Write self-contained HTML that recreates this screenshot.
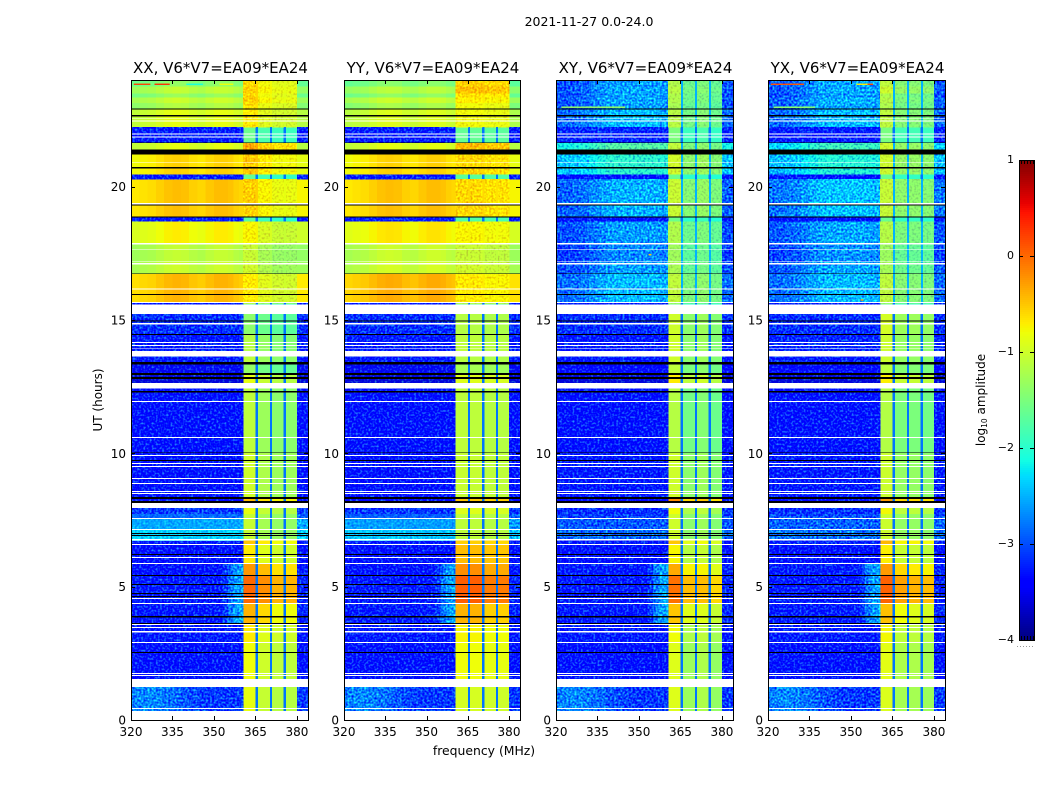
<!DOCTYPE html>
<html lang="en">
<head>
<meta charset="utf-8">
<title>2021-11-27 0.0-24.0</title>
<style>
html,body{margin:0;padding:0;background:#fff;}
svg{display:block;font-family:"DejaVu Sans","Liberation Sans",sans-serif;fill:#000;}
</style>
</head>
<body>
<svg id="figure" xmlns="http://www.w3.org/2000/svg" width="1050" height="800" viewBox="0 0 1050 800">
  <defs id="defs"></defs>
  <rect x="0" y="0" width="1050" height="800" fill="#fff"></rect>
  <text x="589" y="26" font-size="12.5" text-anchor="middle">2021-11-27 0.0-24.0</text>
  <text transform="translate(102,400) rotate(-90)" font-size="12" text-anchor="middle">UT (hours)</text>
  <text x="484" y="755" font-size="12.4" text-anchor="middle">frequency (MHz)</text>
  <text transform="translate(985,400) rotate(-90)" font-size="12" text-anchor="middle">log<tspan font-size="7.5" dy="2">10</tspan><tspan dy="-2"> amplitude</tspan></text>
  <g id="panels"></g>
  <g id="colorbar"></g>
</svg>
<script>
/* ---- axis labels ---- */
const panelTitles = ["XX, V6*V7=EA09*EA24","YY, V6*V7=EA09*EA24","XY, V6*V7=EA09*EA24","YX, V6*V7=EA09*EA24"];
const freqTicks = [320,335,350,365,380];
const hourTicks = [0,5,10,15,20];
const colorTicks = [1,0,-1,-2,-3,-4];

/* ---- frequency channels (MHz) ---- */
const channelEdges = [320,323,326,329,332,335,338,341,344,347,350,353,355,357,359,360.5,365.1,365.9,370.2,371,375.2,376,380,384];
const channelKinds = ["low","low","low","low","low","low","low","low","low","low","low","low","low","low","low","win","gap","win","gap","win","gap","win","edge"];

/* ---- time blocks: top edge of each block, UT hours ---- */
const blockTops = [24,23.76,23.5,23.35,23.13,22.94,22.23,21.66,21.21,20.46,20.28,18.89,18.7,17.88,17.17,16.75,15.63,15.22,14.47,13.64,13.42,13.0,12.44,10.04,8.36,7.95,7.72,7.53,7.12,6.73,6.56,5.88,5.43,4.39,3.6,2.89,1.24];
const blockShapes = [1,1,1,1,1,1,0,1,1,0,1,0,1,1,1,1,0,0,0,0,0,0,0,0,0,0,0,0,0,0,0,2,2,2,0,0,3];
const smoothParallelTops = [7.72,7.53,7.12];

/* ---- log10 amplitude of the line-free (low) band and the spectral windows ---- */
const lowXX = [-1.45,-1.15,-1.4,-1.1,-1.25,-0.95,-3.25,-0.95,-0.65,-3.25,-0.55,-3.25,-0.8,-1.15,-1.1,-0.5,-3.25,-3.15,-3.25,-3.25,-3.5,-3.6,-3.3,-3.3,-3.35,-3.1,-2.85,-2.55,-2.35,-3.25,-3.3,-3.3,-3.25,-3.25,-3.25,-3.3,-3.1];
const winXX = [-0.75,-0.7,-0.75,-0.7,-0.8,-0.85,-1.75,-0.5,-0.65,-1.8,-0.7,-1.85,-0.9,-1.2,-1.15,-0.85,-1.8,-1.55,-1.3,-1.25,-1.5,-1.0,-1.25,-1.15,-0.6,-1.0,-1.2,-1.2,-1.2,-0.65,-0.85,-0.45,-0.2,-0.6,-0.85,-0.95,-1.0];
const lowYY = [-1.5,-1.2,-1.45,-1.1,-1.3,-1.0,-3.25,-0.95,-0.65,-3.25,-0.55,-3.25,-0.75,-1.1,-1.05,-0.45,-3.25,-3.15,-3.25,-3.25,-3.5,-3.6,-3.3,-3.3,-3.35,-3.1,-2.9,-2.6,-2.4,-3.25,-3.3,-3.3,-3.25,-3.25,-3.25,-3.3,-3.1];
const winYY = [-0.6,-0.5,-0.7,-0.75,-0.85,-0.85,-1.7,-0.5,-0.65,-1.75,-0.65,-1.8,-0.8,-1.1,-1.05,-0.75,-1.7,-1.2,-1.15,-1.2,-1.3,-0.95,-1.15,-1.1,-0.55,-0.95,-1.15,-1.15,-1.15,-0.6,-0.5,-0.3,-0.05,-0.5,-0.8,-0.85,-1.0];
const lowXY = [-2.8,-2.75,-2.8,-2.75,-2.8,-2.65,-3.2,-1.95,-2.2,-3.3,-2.7,-3.3,-2.8,-2.9,-2.8,-2.65,-3.25,-3.15,-3.25,-3.25,-3.45,-3.6,-3.3,-3.25,-3.35,-3.15,-3.05,-2.95,-2.85,-3.25,-3.3,-3.25,-3.25,-3.25,-3.25,-3.3,-3.1];
const winXY = [-1.5,-1.45,-1.5,-1.5,-1.55,-1.45,-1.8,-1.4,-1.3,-1.9,-1.35,-1.9,-1.5,-1.6,-1.55,-1.4,-1.9,-1.3,-1.3,-1.3,-1.4,-1.0,-1.45,-1.3,-0.5,-1.1,-1.3,-1.3,-1.3,-0.8,-1.05,-0.7,-0.4,-0.85,-1.1,-1.2,-1.2];
const lowYX = [-2.75,-2.75,-2.8,-2.7,-2.75,-2.65,-3.25,-2.1,-2.25,-3.3,-2.6,-3.3,-2.75,-2.85,-2.75,-2.65,-3.25,-3.15,-3.2,-3.25,-3.45,-3.6,-3.3,-3.25,-3.35,-3.15,-3.0,-2.9,-2.8,-3.2,-3.3,-3.25,-3.25,-3.25,-3.25,-3.3,-3.1];
const winYX = [-1.4,-1.3,-1.5,-1.45,-1.5,-1.4,-1.8,-1.3,-1.3,-1.9,-1.35,-1.9,-1.45,-1.6,-1.55,-1.4,-1.9,-1.25,-1.3,-1.3,-1.4,-1.0,-1.45,-1.3,-0.55,-1.05,-1.3,-1.3,-1.3,-0.7,-1.0,-0.6,-0.3,-0.8,-1.05,-1.15,-1.2];

/* ---- per-window brightness offsets, per polarization ---- */
const windowOffsetXX = [0.15,-0.05,-0.15,-0.15];
const windowOffsetYY = [0.05,0.05,0,0];
const windowOffsetXY = [0.3,-0.1,0,-0.15];
const windowOffsetYX = [0.28,-0.05,-0.05,-0.1];

/* ---- spectral shape: 15 low channels, 4 windows, 1 edge ---- */
const shapeFlat  = [0,0,0,0,0,0,0,0,0,0,0,0,0,0,0, 0,0,0,0, 0];
const shapeLumps = [-0.14,-0.1,-0.07,0,0.07,0.1,0.08,0,-0.04,0.04,0.1,0.1,0.07,0,-0.04, 0,0,0,0, -0.2];
const shapeCross = [-0.2,-0.2,-0.15,-0.1,0,0.1,0.18,0.2,0.2,0.2,0.2,0.2,0.2,0.15,0.15, 0,0,0,0, -0.2];
const shapeBump  = [0,0,0,0,0,0,0,0,0,0,0,0.15,0.45,0.65,0.7, 0.05,0.05,-0.05,-0.05, 0.05];
const shapeLeft  = [0.35,0.4,0.4,0.35,0.3,0.25,0.15,0.1,0.05,0,0,0,0,0,0, 0,0,0,0, 0];

/* ---- flagged time ranges: [start hour, end hour] ---- */
const whiteStart = [22.56,22.49,22.0,21.89,20.91,19.38,17.88,17.65,17.2,17.13,16.19,15.67,15.59,14.88,14.17,14.06,13.94,13.83,12.63,11.96,10.61,9.93,9.63,9.52,9.07,8.88,8.58,8.51,8.13,7.57,7.16,6.78,6.6,6.11,5.88,4.57,4.39,3.6,3.49,3.34,2.92,1.76,1.69,1.54,0.45,0.34];
const whiteEnd   = [22.53,22.45,21.96,21.85,20.88,19.34,17.84,17.62,17.17,17.09,16.15,15.63,15.22,14.84,14.13,14.02,13.91,13.64,12.44,11.92,10.57,9.9,9.6,9.48,9.03,8.85,8.55,8.47,7.95,7.53,7.12,6.73,6.56,6.07,5.85,4.54,4.35,3.56,3.45,3.28,2.89,1.72,1.65,1.24,0.41,0];
const blackStart = [22.94,22.68,21.66,21.4,20.73,19.34,18.89,16.75,15.97,14.99,14.47,13.42,13.01,12.86,12.33,10.04,9.75,8.36,8.21,7.01,6.93,6.22,5.43,5.1,4.76,4.65,3.9,3.64,2.55];
const blackEnd   = [22.9,22.64,21.63,21.21,20.69,19.3,18.85,16.72,15.93,14.94,14.43,13.34,12.93,12.78,12.29,10.01,9.71,8.28,8.13,6.97,6.9,6.18,5.4,5.06,4.72,4.61,3.84,3.6,2.51];

/* ---- narrow interference streaks ---- */
const streakPanel = [0,0,0,0,3,3,3,3,2,2,3,3];
const streakHour  = [23.84,23.84,23.84,23.84,23.84,23.84,23.84,22.98,22.98,17.45,22.98,15.75];
const streakFrom  = [321,328.5,340,352,321,352,356,322,322,353.5,322,353.5];
const streakTo    = [327,334,346,357,333,356,358,337,345,354.5,335,354.5];
const streakValue = [0.2,0.3,-2.1,-0.8,0.1,-0.7,0.2,-1.4,-1.3,-0.5,-1.4,-0.4];

/* ---- panel geometry ---- */
const panelLefts = [131,344,556,768];
const panelWidths = [177,176,177,177];
const plotTop = 80;
const plotBottom = 720;
const freqMin = 320;
const freqMax = 384;
const hourMax = 24;
const colorMin = -4;
const colorMax = 1;

const lows = [lowXX,lowYY,lowXY,lowYX];
const wins = [winXX,winYY,winXY,winYX];
const windowOffsets = [windowOffsetXX,windowOffsetYY,windowOffsetXY,windowOffsetYX];
const shapesParallel = [shapeFlat,shapeLumps,shapeBump,shapeLeft];
const shapesCrossed = [shapeFlat,shapeCross,shapeBump,shapeLeft];

const NS = "http://www.w3.org/2000/svg";
function mk(tag,parent){
  const e = document.createElementNS(NS,tag);
  parent.appendChild(e);
  return e;
}
function xScale(panel,f){ return panelLefts[panel] + (f-freqMin)/(freqMax-freqMin)*panelWidths[panel]; }
function yScale(h){ return plotBottom - h/hourMax*(plotBottom-plotTop); }
function interp(stops,t){
  for(let i=1;i<stops.length;i++){
    if(t<=stops[i][0]){
      const a=stops[i-1], b=stops[i];
      return a[1]+(b[1]-a[1])*(t-a[0])/(b[0]-a[0]);
    }
  }
  return stops[stops.length-1][1];
}
const jetR=[[0,0],[0.35,0],[0.66,1],[0.89,1],[1,0.5]];
const jetG=[[0,0],[0.125,0],[0.375,1],[0.64,1],[0.91,0],[1,0]];
const jetB=[[0,0.5],[0.11,1],[0.34,1],[0.65,0],[1,0]];
function jetColor(v){
  const t=Math.max(0,Math.min(1,(v-colorMin)/(colorMax-colorMin)));
  return "rgb("+Math.round(255*interp(jetR,t))+","+Math.round(255*interp(jetG,t))+","+Math.round(255*interp(jetB,t))+")";
}
function cellValue(p,b,c){
  const low=lows[p][b], win=wins[p][b];
  const shape=(p<2?shapesParallel:shapesCrossed)[blockShapes[b]];
  const kind=channelKinds[c];
  let profileIndex=c, w=0;
  if(c>=15){
    w=Math.floor((c-15)/2);
    profileIndex=kind==="edge"?19:15+Math.min(w,3);
  }
  if(kind==="low") return low+shape[profileIndex];
  if(kind==="edge") return low+shape[profileIndex];
  if(kind==="win") return win+windowOffsets[p][w]+shape[profileIndex];
  if(low<-1.9) return (blockTops[b]>15.7 && low>-2.95) ? -2.5 : -2.8;
  return win+windowOffsets[p][w];
}
function addSpeckleFilter(id,seed,amp){
  const filter=mk("filter",defs);
  filter.setAttribute("id",id);
  filter.setAttribute("x","0");
  filter.setAttribute("y","0");
  filter.setAttribute("width","1");
  filter.setAttribute("height","1");
  filter.setAttribute("color-interpolation-filters","sRGB");
  const turb=mk("feTurbulence",filter);
  turb.setAttribute("type","fractalNoise");
  turb.setAttribute("baseFrequency","0.48");
  turb.setAttribute("numOctaves","1");
  turb.setAttribute("seed",String(seed));
  turb.setAttribute("result","n");
  const cm=mk("feColorMatrix",filter);
  cm.setAttribute("in","n");
  cm.setAttribute("type","matrix");
  cm.setAttribute("values","0.3 0 0 0 0.35  1 0 0 0 0  0 0 0 0 0.5  0 0 0 0 1");
  cm.setAttribute("result","m");
  const comp=mk("feComposite",filter);
  comp.setAttribute("in","SourceGraphic");
  comp.setAttribute("in2","m");
  comp.setAttribute("operator","arithmetic");
  comp.setAttribute("k1","0");
  comp.setAttribute("k2","1");
  comp.setAttribute("k3",String(amp));
  comp.setAttribute("k4",String(-amp/2));
  comp.setAttribute("result","c");
  const clip=mk("feComposite",filter);
  clip.setAttribute("in","c");
  clip.setAttribute("in2","SourceAlpha");
  clip.setAttribute("operator","in");
}

const defs=document.getElementById("defs");
const panelsRoot=document.getElementById("panels");

panelLefts.forEach(function(left,p){
  const panelWidth=panelWidths[p];
  addSpeckleFilter("speckle-"+p,p*5+3,1.6);
  addSpeckleFilter("soft-speckle-"+p,p*5+11,0.8);

  const panel=mk("g",panelsRoot);
  
  

  const bg=mk("rect",panel);
  
  
  bg.setAttribute("x",left);
  bg.setAttribute("y",plotTop);
  bg.setAttribute("width",panelWidth);
  bg.setAttribute("height",plotBottom-plotTop);
  bg.setAttribute("fill","#fff");

  const smooth=mk("g",panel);
  
  
  smooth.setAttribute("shape-rendering","crispEdges");
  const noisy=mk("g",panel);
  
  
  noisy.setAttribute("shape-rendering","crispEdges");
  noisy.setAttribute("filter","url(#speckle-"+p+")");
  const soft=mk("g",panel);
  
  
  soft.setAttribute("shape-rendering","crispEdges");
  soft.setAttribute("filter","url(#soft-speckle-"+p+")");

  blockTops.forEach(function(top,b){
    const bottom=b+1<blockTops.length?blockTops[b+1]:0;
    for(let c=0;c<channelKinds.length;c++){
      const v=cellValue(p,b,c);
      const kind=channelKinds[c];
      let target=smooth;
      if((kind==="low"||kind==="edge") && v<-1.7) target=noisy;
      if(kind==="low" && p<2 && smoothParallelTops.includes(top)) target=soft;
      if(kind==="win" && top>15.7 && lows[p][b]>-2.95) target=soft;
      const cell=mk("rect",target);
      
      
      const x0=xScale(p,channelEdges[c]), x1=xScale(p,channelEdges[c+1]);
      cell.setAttribute("x",x0.toFixed(2));
      cell.setAttribute("y",yScale(top).toFixed(2));
      cell.setAttribute("width",(x1-x0+0.3).toFixed(2));
      cell.setAttribute("height",(yScale(bottom)-yScale(top)+0.3).toFixed(2));
      cell.setAttribute("fill",jetColor(v));
    }
  });

  streakPanel.forEach(function(sp,i){
    if(sp!==p) return;
    const s=mk("rect",panel);
    
    
    s.setAttribute("x",xScale(p,streakFrom[i]).toFixed(2));
    s.setAttribute("y",(yScale(streakHour[i])-0.7).toFixed(2));
    s.setAttribute("width",(xScale(p,streakTo[i])-xScale(p,streakFrom[i])).toFixed(2));
    s.setAttribute("height","1.4");
    s.setAttribute("fill",jetColor(streakValue[i]));
  });

  whiteStart.forEach(function(h,i){
    const r=mk("rect",panel);
    
    
    r.setAttribute("shape-rendering","crispEdges");
    r.setAttribute("x",left);
    r.setAttribute("y",yScale(h).toFixed(2));
    r.setAttribute("width",panelWidth);
    r.setAttribute("height",(yScale(whiteEnd[i])-yScale(h)).toFixed(2));
    r.setAttribute("fill","#fff");
  });
  blackStart.forEach(function(h,i){
    const r=mk("rect",panel);
    
    
    r.setAttribute("shape-rendering","crispEdges");
    r.setAttribute("x",left);
    r.setAttribute("y",yScale(h).toFixed(2));
    r.setAttribute("width",panelWidth);
    r.setAttribute("height",(yScale(blackEnd[i])-yScale(h)).toFixed(2));
    r.setAttribute("fill","#000");
  });

  const title=mk("text",panel);
  
  
  title.setAttribute("x",left+panelWidth/2+1);
  title.setAttribute("y",plotTop-7);
  title.setAttribute("font-size","15");
  title.setAttribute("text-anchor","middle");
  title.textContent=panelTitles[p];

  freqTicks.forEach(function(f){
    const x=Math.round(xScale(p,f))+0.5;
    [[plotBottom,plotBottom-4],[plotTop,plotTop+4]].forEach(function(seg){
      const t=mk("line",panel);
      
      
      t.setAttribute("x1",x);
      t.setAttribute("x2",x);
      t.setAttribute("y1",seg[0]);
      t.setAttribute("y2",seg[1]);
      t.setAttribute("stroke","#000");
    });
    const lab=mk("text",panel);
    
    
    lab.setAttribute("x",xScale(p,f));
    lab.setAttribute("y",plotBottom+16);
    lab.setAttribute("font-size","12");
    lab.setAttribute("text-anchor","middle");
    lab.textContent=f;
  });
  hourTicks.forEach(function(h){
    const y=Math.round(yScale(h))+0.5;
    [[left,left+4],[left+panelWidth,left+panelWidth-4]].forEach(function(seg){
      const t=mk("line",panel);
      
      
      t.setAttribute("x1",seg[0]);
      t.setAttribute("x2",seg[1]);
      t.setAttribute("y1",y);
      t.setAttribute("y2",y);
      t.setAttribute("stroke","#000");
    });
    const lab=mk("text",panel);
    
    
    lab.setAttribute("x",left-5);
    lab.setAttribute("y",yScale(h)+4.5);
    lab.setAttribute("font-size","12");
    lab.setAttribute("text-anchor","end");
    lab.textContent=h;
  });

  const frame=mk("rect",panel);
  
  
  frame.setAttribute("x",left+0.5);
  frame.setAttribute("y",plotTop+0.5);
  frame.setAttribute("width",panelWidth);
  frame.setAttribute("height",plotBottom-plotTop);
  frame.setAttribute("fill","none");
  frame.setAttribute("stroke","#000");
});

/* ---- colorbar ---- */
const barRoot=document.getElementById("colorbar");
const barLeft=1019, barWidth=15, barTop=160, barBottom=640;
function barY(v){ return barBottom-(v-colorMin)/(colorMax-colorMin)*(barBottom-barTop); }
for(let py=barTop;py<barBottom;py+=2){
  const v=colorMin+(barBottom-py-1)/(barBottom-barTop)*(colorMax-colorMin);
  const s=mk("rect",barRoot);
  
  
  s.setAttribute("shape-rendering","crispEdges");
  s.setAttribute("x",barLeft);
  s.setAttribute("y",py);
  s.setAttribute("width",barWidth);
  s.setAttribute("height","2");
  s.setAttribute("fill",jetColor(v));
}
colorTicks.forEach(function(v){
  const y=Math.round(barY(v))+0.5;
  if(v!==colorMin&&v!==colorMax){
    [[barLeft,barLeft+4],[barLeft+barWidth,barLeft+barWidth-4]].forEach(function(seg){
      const t=mk("line",barRoot);
      
      
      t.setAttribute("x1",seg[0]);
      t.setAttribute("x2",seg[1]);
      t.setAttribute("y1",y);
      t.setAttribute("y2",y);
      t.setAttribute("stroke","#000");
    });
  }
  const lab=mk("text",barRoot);
  
  
  lab.setAttribute("x",barLeft-5);
  lab.setAttribute("y",barY(v)+3);
  lab.setAttribute("font-size","11");
  lab.setAttribute("text-anchor","end");
  lab.textContent=v<0?"\u2212"+Math.abs(v):String(v);
});
for(let tx=barLeft+2;tx<barLeft+barWidth;tx+=3){
  [[barTop,barTop+4],[barBottom,barBottom-4]].forEach(function(seg){
    const t=mk("line",barRoot);
    
    
    t.setAttribute("x1",tx+0.5);
    t.setAttribute("x2",tx+0.5);
    t.setAttribute("y1",seg[0]);
    t.setAttribute("y2",seg[1]);
    t.setAttribute("stroke","#000");
  });
}
const barFrame=mk("rect",barRoot);


barFrame.setAttribute("x",barLeft+0.5);
barFrame.setAttribute("y",barTop+0.5);
barFrame.setAttribute("width",barWidth);
barFrame.setAttribute("height",barBottom-barTop);
barFrame.setAttribute("fill","none");
barFrame.setAttribute("stroke","#000");
const dots=mk("line",barRoot);


dots.setAttribute("x1",1017);
dots.setAttribute("x2",1035);
dots.setAttribute("y1",646.5);
dots.setAttribute("y2",646.5);
dots.setAttribute("stroke","#999");
dots.setAttribute("stroke-dasharray","1 2");
</script>
</body>
</html>
